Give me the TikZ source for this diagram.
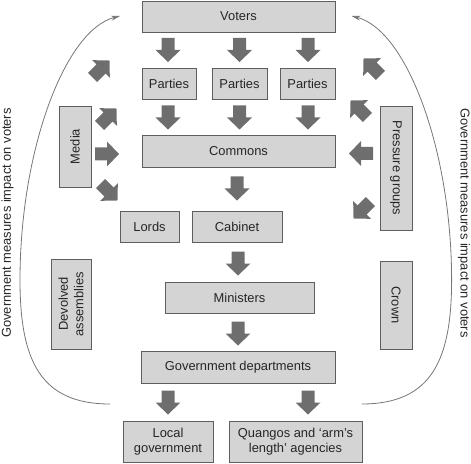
\documentclass[tikz,border=0pt]{standalone}
\usepackage{fontspec}
\setmainfont{Liberation Sans}
\usetikzlibrary{arrows.meta}
\definecolor{boxfill}{HTML}{D4D4D4}
\definecolor{boxline}{HTML}{5E5E5E}
\definecolor{arrowgray}{HTML}{6E6E6E}
\definecolor{curvegray}{HTML}{767676}
\begin{document}
\begin{tikzpicture}[x=1bp,y=-1bp,
  font=\fontsize{12.9bp}{15.5bp}\selectfont,
  box/.style={draw=boxline, line width=0.9bp, fill=boxfill, inner sep=0pt, align=center, text=black!85},
  blk/.pic={\fill[arrowgray] (-6.5,-12) -- (6.5,-12) -- (6.5,0) -- (12.5,0) -- (0,12) -- (-12.5,0) -- (-6.5,0) -- cycle;},
  curve/.style={draw=curvegray, line width=0.8bp},
  sidetext/.style={text=black!85}]
\useasboundingbox (0,0) rectangle (471,464);
% boxes
\node[box, minimum width=193bp, minimum height=31bp] (voters) at (238.5,16.5) {Voters};
\node[box, minimum width=54bp, minimum height=31bp] (p1) at (169,83.5) {Parties};
\node[box, minimum width=55bp, minimum height=31bp] (p2) at (239.5,83.5) {Parties};
\node[box, minimum width=55bp, minimum height=31bp] (p3) at (307.5,83.5) {Parties};
\node[box, minimum width=193bp, minimum height=32bp] (commons) at (238.5,151) {Commons};
\node[box, minimum width=59bp, minimum height=31bp] (lords) at (149.5,226.5) {Lords};
\node[box, minimum width=90bp, minimum height=31bp] (cabinet) at (237,226.5) {Cabinet};
\node[box, rotate=90, minimum width=81bp, minimum height=32bp] (media) at (75,146.5) {Media};
\node[box, rotate=-90, minimum width=124bp, minimum height=32bp] (pressure) at (396,168) {Pressure groups};
\node[box, rotate=90, minimum width=90bp, minimum height=40bp] (devolved) at (71,304) {Devolved\\assemblies};
\node[box, rotate=-90, minimum width=88bp, minimum height=32bp] (crown) at (396,305) {Crown};
\node[box, minimum width=149bp, minimum height=31bp] (ministers) at (239.5,297.5) {Ministers};
\node[box, minimum width=194bp, minimum height=32bp] (govdep) at (238,367) {Government departments};
\node[box, minimum width=90bp, minimum height=41bp] (local) at (168,441.5) {Local\\government};
\node[box, minimum width=133bp, minimum height=41bp] (quangos) at (295.5,441.5) {Quangos and `arm's\\length' agencies};
% down block arrows
\pic at (168,50) {blk};
\pic at (239.5,50) {blk};
\pic at (308,50) {blk};
\pic at (168,117.5) {blk};
\pic at (239.5,117.5) {blk};
\pic at (308,117.5) {blk};
\pic at (237,188.5) {blk};
\pic at (238,263.5) {blk};
\pic at (238,333.5) {blk};
\pic at (168,402.5) {blk};
\pic at (308,402.5) {blk};
% media side arrows
\pic[rotate=135] at (101,69) {blk};
\pic[rotate=135] at (108,117) {blk};
\pic[rotate=90] at (107,154) {blk};
\pic[rotate=45] at (109,192) {blk};
% pressure side arrows
\pic[rotate=-135] at (372,67) {blk};
\pic[rotate=-135] at (359,109) {blk};
\pic[rotate=-90] at (361,153.5) {blk};
\pic[rotate=-45] at (362,210) {blk};
% feedback curves
\coordinate (lstart) at (110,404);
\coordinate (lmid) at (20,280);
\coordinate (rstart) at (361.6,404);
\coordinate (rmid) at (451.6,280);
\coordinate (ltip) at (120,16);
\coordinate (rtip) at (351.6,16);
\draw[curve, -{Stealth[length=9bp,width=5bp]}] (lstart) .. controls (40,404) and (20,360) .. (lmid) .. controls (20,150) and (65,30) .. (ltip);
\draw[curve, -{Stealth[length=9bp,width=5bp]}] (rstart) .. controls (431.6,404) and (451.6,360) .. (rmid) .. controls (451.6,150) and (406.6,30) .. (rtip);
% side texts
\node[sidetext, rotate=90] (ltext) at (7.5,223) {Government measures impact on voters};
\node[sidetext, rotate=-90] (rtext) at (464,223) {Government measures impact on voters};
\end{tikzpicture}
\end{document}
